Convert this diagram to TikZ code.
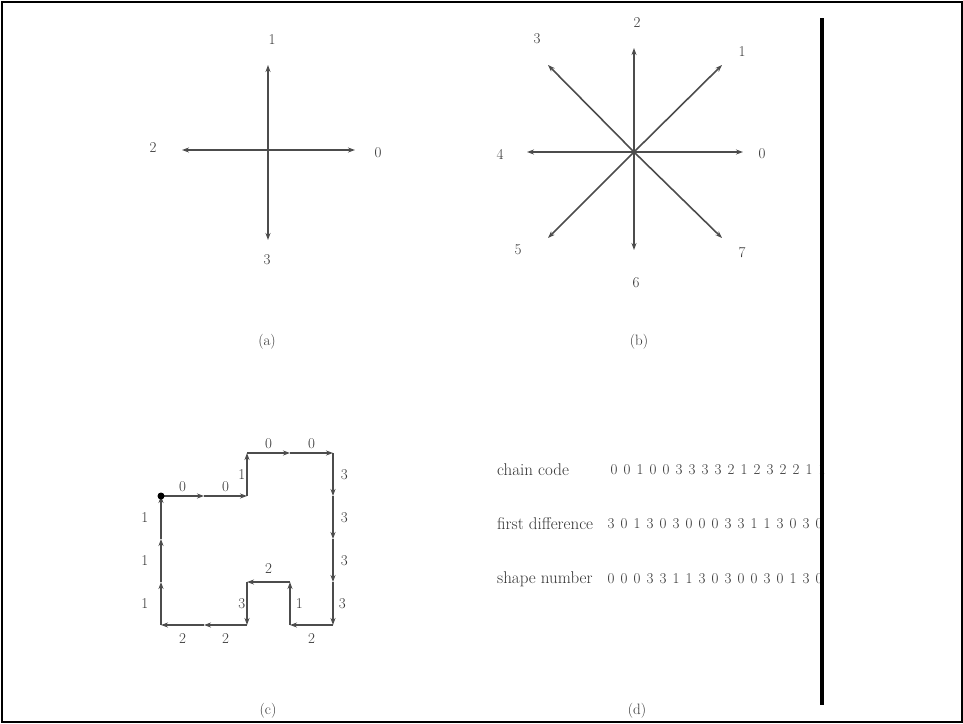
\documentclass[tikz,border=0pt]{standalone}
\usetikzlibrary{arrows.meta,positioning}
\begin{document}
\begin{tikzpicture}[x=1pt,y=-1pt,
  vec/.style={draw=black!70,line width=1.6pt,-{Stealth[length=7pt,width=5pt]}},
  lbl/.style={font=\fontsize{15}{17}\selectfont,text=black!80,inner sep=0pt},
  rowlbl/.style={font=\fontsize{17}{19}\selectfont,text=black!80,anchor=west,inner sep=0pt}]
  \useasboundingbox (0,0) rectangle (963,723);
  \draw[line width=2pt] (1.5,1.5) rectangle (961.5,721.5);

  % (a) four directions
  \coordinate (ao) at (268,150);
  \foreach \n/\tx/\ty/\lx/\ly in {0/355/150/378/153, 1/268/65/272/40,
                                  2/182/150/153/148, 3/268/240/267/260}{
    \coordinate (a\n) at (\tx,\ty);
    \node[lbl] (al\n) at (\lx,\ly) {\n};
    \draw[vec] (ao) -- (a\n);
  }
  \node[lbl] (capa) at (267,342) {(a)};

  % (b) eight directions
  \coordinate (bo) at (634,152);
  \foreach \n/\tx/\ty/\lx/\ly in {0/743/152/762/154, 1/722/65/742/52,
                                  2/634/48/637/23,   3/548/65/537/39,
                                  4/527/152/500/154, 5/548/238/518/250,
                                  6/634/250/636/283, 7/722/238/742/253}{
    \coordinate (b\n) at (\tx,\ty);
    \node[lbl] (bl\n) at (\lx,\ly) {\n};
    \draw[vec] (bo) -- (b\n);
  }
  \node[lbl] (capb) at (639,342) {(b)};

  % (c) boundary traced with the 4-direction chain code
  \coordinate (c0) at (161,496);
  \foreach \d/\s/\g [count=\i, remember=\i as \j (initially 0)] in {
    0/above/3, 0/above/3, 1/left/1, 0/above/3, 0/above/3,
    3/right/7, 3/right/7, 3/right/7, 3/right/5,
    2/below/8, 1/right/5, 2/above/8, 3/left/1, 2/below/8, 2/below/8,
    1/left/12, 1/left/12, 1/left/12
  }{
    \path (c\j) ++(-\d*90:43) coordinate (c\i);
    \draw[vec] (c\j) -- node[lbl,\s=\g pt] {\d} (c\i);
  }
  \node[circle,fill,inner sep=0pt,minimum size=7pt] (cstart) at (c0) {};
  \node[lbl] (capc) at (268,711) {(c)};

  % (d) codes
  \node[rowlbl] (chain) at (497,470) {chain code};
  \node[rowlbl] (diff) at (497,524) {first difference};
  \node[rowlbl] (shape) at (497,579) {shape number};
  \foreach \v [count=\k from 0] in {0,0,1,0,0,3,3,3,3,2,1,2,3,2,2,1,1}{
    \node[lbl] (cd\k) at (614+13*\k,470) {\v};
  }
  \foreach \v [count=\k from 0] in {3,0,1,3,0,3,0,0,0,3,3,1,1,3,0,3,0}{
    \node[lbl] (fd\k) at (611+13*\k,524) {\v};
  }
  \foreach \v [count=\k from 0] in {0,0,0,3,3,1,1,3,0,3,0,0,3,0,1,3,0}{
    \node[lbl] (sn\k) at (611+13*\k,579) {\v};
  }
  \node[lbl] (capd) at (637,711) {(d)};

  % divider
  \coordinate (vtop) at (822,18);
  \coordinate (vbot) at (822,705);
  \draw[line width=4pt] (vtop) -- (vbot);
\end{tikzpicture}
\end{document}
